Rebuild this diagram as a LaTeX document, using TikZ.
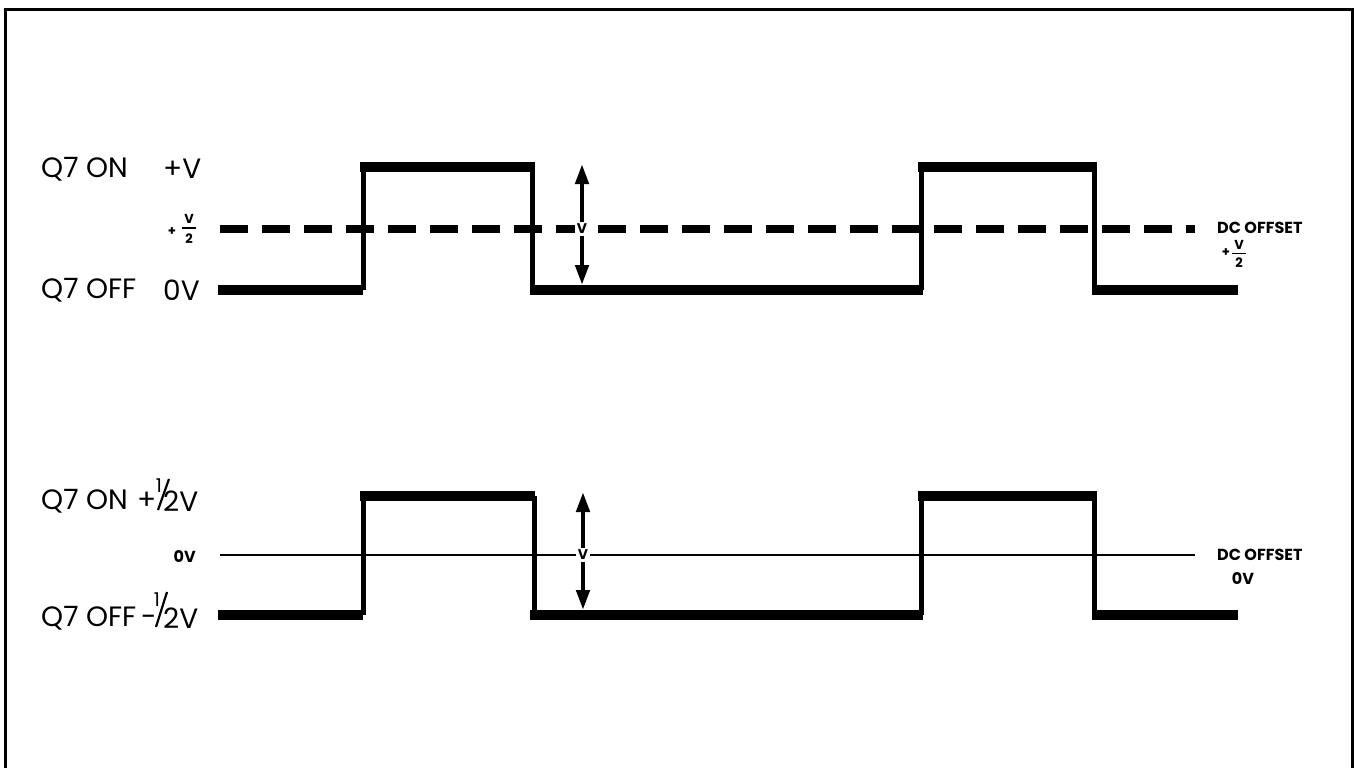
\documentclass[tikz,border=0pt]{standalone}
\usepackage{fontspec}
\setmainfont{Poppins}
\usetikzlibrary{arrows.meta}
\tikzset{
  hwave/.style={line width=9.5pt},
  vwave/.style={line width=5pt},
  amp/.style={line width=4.5pt,-{Triangle[width=13pt,length=20pt]}},
  biglab/.style={font=\fontsize{28}{28}\selectfont,inner sep=0pt,anchor=west},
  halflab/.style={font=\fontsize{19}{19}\selectfont,inner sep=0pt},
  smalllab/.style={font=\fontsize{16}{16}\selectfont\bfseries,inner sep=0pt},
  fracpart/.style={font=\fontsize{13}{13}\selectfont\bfseries,inner sep=0pt},
  vlab/.style={font=\fontsize{14}{14}\selectfont\bfseries,fill=white,inner sep=2pt}
}
\begin{document}
\begin{tikzpicture}[x=1pt,y=-1pt]
\useasboundingbox (0,0) rectangle (1355,768);
% frame
\draw[line width=3pt] (5,790) -- (5,10) -- (1352,10) -- (1352,790);

% ---------- top waveform ----------
\draw[line width=8pt,dash pattern=on 28pt off 14pt] (220,229) -- (1195,229);
\draw[hwave] (218,290) -- (363,290);
\draw[hwave] (360,167) -- (535,167);
\draw[hwave] (530,290) -- (923,290);
\draw[hwave] (918,167) -- (1097,167);
\draw[hwave] (1092,290) -- (1238,290);
\draw[vwave] (363,290) -- (363,167);
\draw[vwave] (532,167) -- (532,290);
\draw[vwave] (921,290) -- (921,167);
\draw[vwave] (1094,167) -- (1094,290);

\node[vlab] (v1) at (582,229) {V};
\coordinate (v1t) at (582,164);
\coordinate (v1b) at (582,285);
\draw[amp] (v1.north) -- (v1t);
\draw[amp] (v1.south) -- (v1b);

\node[biglab] (on1) at (41,169) {Q7 ON};
\node[biglab] (pv1) at (163,169) {+V};
\node[biglab] (off1) at (41,290) {Q7 OFF};
\node[biglab] (zv1) at (163,290) {0V};
% +V/2 left
\node[fracpart] (lp1) at (172,232) {+};
\node[fracpart] (ln1) at (189,219) {V};
\node[fracpart] (ld1) at (189,239) {2};
\draw[line width=1.5pt] (182,228) -- (196,228);
% right labels
\node[smalllab,anchor=west] (dc1) at (1217,228) {DC OFFSET};
\node[fracpart] (rp1) at (1226,253) {+};
\node[fracpart] (rn1) at (1239,245) {V};
\node[fracpart] (rd1) at (1239,263) {2};
\draw[line width=1.5pt] (1232,253.5) -- (1246,253.5);

% ---------- bottom waveform ----------
\draw[line width=1.3pt] (220,555) -- (1195,555);
\draw[hwave] (218,615) -- (363,615);
\draw[hwave] (360,496) -- (535,496);
\draw[hwave] (530,615) -- (923,615);
\draw[hwave] (918,496) -- (1097,496);
\draw[hwave] (1092,615) -- (1238,615);
\draw[vwave] (363,615) -- (363,496);
\draw[vwave] (534,496) -- (534,615);
\draw[vwave] (921,615) -- (921,496);
\draw[vwave] (1094,496) -- (1094,615);

\node[vlab] (v2) at (583,555) {V};
\coordinate (v2t) at (583,492);
\coordinate (v2b) at (583,610);
\draw[amp] (v2.north) -- (v2t);
\draw[amp] (v2.south) -- (v2b);

% Q7 ON +1/2V
\node[biglab] (on2) at (41,501) {Q7 ON};
\node[biglab] (pl2) at (137,501) {+};
\node[halflab] (one2) at (159,486) {1};
\coordinate (s2a) at (169,479);
\coordinate (s2b) at (158,510);
\draw[line width=2.2pt] (s2a) -- (s2b);
\node[biglab] (tv2) at (163,501) {2V};
% Q7 OFF -1/2V
\node[biglab] (off2) at (41,618) {Q7 OFF};
\node[biglab,anchor=base west] (mi2) at (141,626) {-};
\node[halflab] (one3) at (157,600) {1};
\coordinate (s3a) at (167,592);
\coordinate (s3b) at (156,627);
\draw[line width=2.2pt] (s3a) -- (s3b);
\node[biglab] (tv3) at (163,618) {2V};

\node[smalllab,anchor=east] (zl2) at (196,557) {0V};
\node[smalllab,anchor=west] (dc2) at (1217,555) {DC OFFSET};
\node[smalllab] (dz2) at (1243,579) {0V};
\end{tikzpicture}
\end{document}
